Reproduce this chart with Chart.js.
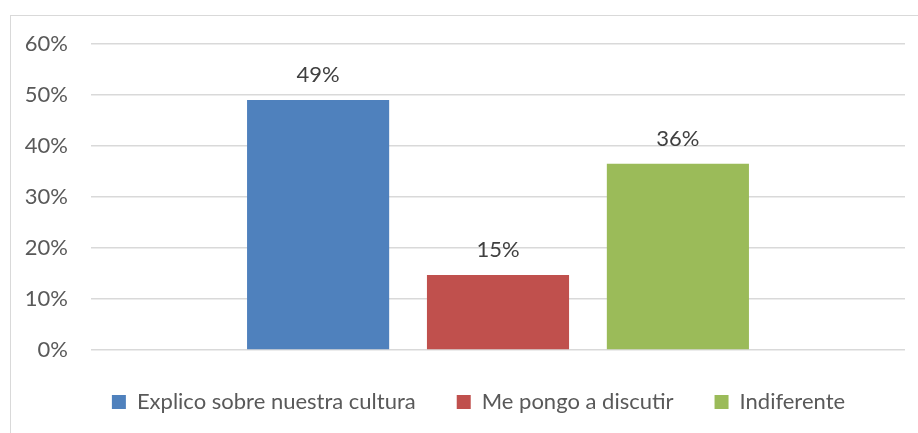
<!DOCTYPE html>
<html><head><meta charset="utf-8">
<script src="https://cdn.jsdelivr.net/npm/chart.js@4"></script>
<style>html,body{margin:0;padding:0;background:#fff;}#wrap{position:relative;width:918px;height:433px;}</style>
</head><body><div id="wrap"><canvas id="c" width="918" height="433"></canvas></div>
<script>
const categories = [""];
const seriesNames = ["Explico sobre nuestra cultura", "Me pongo a discutir", "Indiferente"];
const seriesValues = [[49], [14.7], [36.5]];
const seriesLabels = ["49%", "15%", "36%"];
const seriesColors = ["#4F81BD", "#C0504D", "#9BBB59"];
const yTicks = [0, 10, 20, 30, 40, 50, 60];

const FONT = "Lato, 'Open Sans', sans-serif";
const frame = {
  id: 'frame',
  beforeLayout(chart) {
    const lg = chart.legend;
    if (lg && !lg._fitWrapped) {
      const orig = lg.fit.bind(lg);
      lg.fit = function () { orig(); this.height = 83; };
      lg._fitWrapped = true;
    }
  },
  afterLayout(chart) {
    const lg = chart.legend;
    if (lg) { lg.left += 16; lg.right += 16; }
  },
  beforeDraw(chart) {
    const ctx = chart.ctx;
    ctx.save();
    ctx.strokeStyle = '#d9d9d9';
    ctx.lineWidth = 1;
    ctx.strokeRect(10.5, 15.5, 1000, 1000);
    ctx.restore();
  }
};
const dataLabels = {
  id: 'dataLabels',
  afterDatasetsDraw(chart) {
    const ctx = chart.ctx;
    ctx.save();
    ctx.font = "22px " + FONT;
    ctx.fillStyle = '#404040';
    ctx.textAlign = 'center';
    ctx.textBaseline = 'middle';
    chart.data.datasets.forEach((ds, i) => {
      chart.getDatasetMeta(i).data.forEach((bar) => {
        ctx.fillText(seriesLabels[i], bar.x, bar.y - 25);
      });
    });
    ctx.restore();
  }
};
new Chart(document.getElementById('c'), {
  type: 'bar',
  data: {
    labels: categories,
    datasets: seriesNames.map((n, i) => ({
      label: n,
      data: seriesValues[i],
      backgroundColor: seriesColors[i],
      categoryPercentage: 0.663,
      barPercentage: 0.79
    }))
  },
  options: {
    responsive: false,
    animation: false,
    layout: { padding: { top: 44, right: 13, left: 20, bottom: 0 } },
    plugins: {
      tooltip: { enabled: false },
      legend: {
        position: 'bottom',
        labels: {
          boxWidth: 14, boxHeight: 14, padding: 41,
          color: '#595959',
          font: { family: FONT, size: 22 }
        }
      }
    },
    scales: {
      x: {
        display: true,
        afterFit(axis) { axis.height = 0; },
        grid: { display: false, drawTicks: false },
        border: { display: false },
        ticks: { display: false }
      },
      y: {
        min: 0, max: 60,
        afterBuildTicks(axis) { axis.ticks = yTicks.map(v => ({ value: v })); },
        afterFit(axis) { axis.width = 71; },
        grid: { color: '#d9d9d9', drawTicks: false, lineWidth: 1.5 },
        border: { display: false },
        ticks: {
          padding: 23,
          color: '#595959',
          font: { family: FONT, size: 22 },
          callback: v => v + '%'
        }
      }
    }
  },
  plugins: [frame, dataLabels]
});
</script></body></html>
